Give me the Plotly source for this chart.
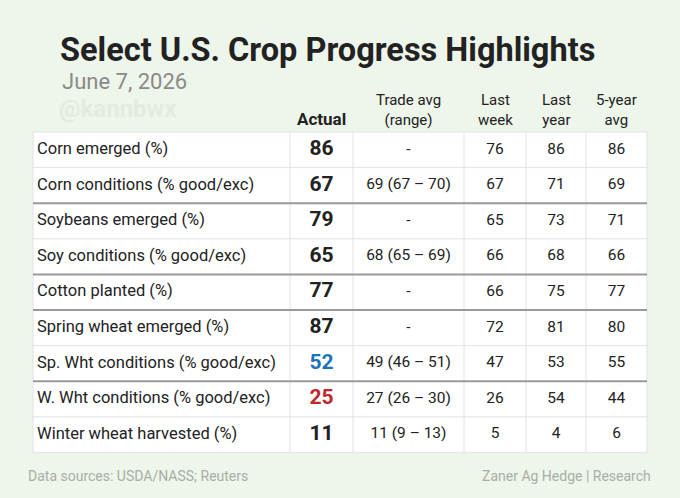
import plotly.graph_objects as go

labels = ["Corn emerged (%)", "Corn conditions (% good/exc)", "Soybeans emerged (%)",
          "Soy conditions (% good/exc)", "Cotton planted (%)", "Spring wheat emerged (%)",
          "Sp. Wht conditions (% good/exc)", "W. Wht conditions (% good/exc)",
          "Winter wheat harvested (%)"]
actual = [86, 67, 79, 65, 77, 87, 52, 25, 11]
actual_colors = ["#222", "#222", "#222", "#222", "#222", "#222", "#1a73b8", "#c0282d", "#222"]
trade = ["-", "69 (67 – 70)", "-", "68 (65 – 69)", "-", "-", "49 (46 – 51)", "27 (26 – 30)", "11 (9 – 13)"]
last_week = [76, 67, 65, 66, 66, 72, 47, 26, 5]
last_year = [86, 71, 73, 68, 75, 81, 53, 54, 4]
five_year = [86, 69, 71, 66, 77, 80, 55, 44, 6]
headers = ["<b>Actual</b>", "Trade avg<br>(range)", "Last<br>week", "Last<br>year", "5-year<br>avg"]
group_breaks = [2, 4, 5, 7]

edges = [33, 290, 353, 464, 526, 586, 647]
top, rh = 132, 35.6
n = len(labels)
font = "Roboto"

fig = go.Figure()
shapes = [dict(type="rect", x0=edges[0], x1=edges[-1], y0=top, y1=top + n * rh,
               fillcolor="white", line=dict(color="#e2e2e2", width=1), layer="below")]
for x in edges[1:-1]:
    shapes.append(dict(type="line", x0=x, x1=x, y0=top, y1=top + n * rh,
                       line=dict(color="#e2e2e2", width=1)))
for i in range(1, n):
    thick = i in group_breaks
    shapes.append(dict(type="line", x0=edges[0], x1=edges[-1], y0=top + i * rh, y1=top + i * rh,
                       line=dict(color="#9a9a9a" if thick else "#e2e2e2", width=2 if thick else 1)))

ys = [top + (i + 0.5) * rh for i in range(n)]
cx = [(edges[k] + edges[k + 1]) / 2 for k in range(len(edges) - 1)]

fig.add_trace(go.Scatter(x=[edges[0] + 4] * n, y=ys, mode="text", text=labels,
                         textposition="middle right", textfont=dict(family=font, size=16.5, color="#222")))
fig.add_trace(go.Scatter(x=[cx[1]] * n, y=ys, mode="text", text=[f"<b>{v}</b>" for v in actual],
                         textfont=dict(family=font, size=21, color=actual_colors)))
for k, col in enumerate([trade, last_week, last_year, five_year]):
    fig.add_trace(go.Scatter(x=[cx[k + 2]] * n, y=ys, mode="text", text=[str(v) for v in col],
                             textfont=dict(family=font, size=15.5, color="#222")))

ann = []
for k, h in enumerate(headers):
    ann.append(dict(x=cx[k + 1], y=top - 1, xref="x", yref="y", text=h, showarrow=False,
                    yanchor="bottom", font=dict(family=font, size=17 if k == 0 else 15, color="#222")))
ann += [
    dict(x=58, y=50, xref="x", yref="y", text="<b>Select U.S. Crop Progress Highlights</b>",
         showarrow=False, xanchor="left", font=dict(family=font, size=32.5, color="#222")),
    dict(x=60, y=81, xref="x", yref="y", text="June 7, 2026", showarrow=False, xanchor="left",
         font=dict(family=font, size=22, color="#8a8a8a")),
    dict(x=57, y=109, xref="x", yref="y", text="<b>@kannbwx</b>", showarrow=False, xanchor="left",
         font=dict(family=font, size=24, color="#e3ebe0")),
    dict(x=26, y=476, xref="x", yref="y", text="Data sources: USDA/NASS; Reuters", showarrow=False,
         xanchor="left", font=dict(family=font, size=14, color="#a8aea6")),
    dict(x=653, y=476, xref="x", yref="y", text="Zaner Ag Hedge | Research", showarrow=False,
         xanchor="right", font=dict(family=font, size=14, color="#a8aea6")),
]

fig.update_layout(width=680, height=498, margin=dict(l=0, r=0, t=0, b=0),
                  paper_bgcolor="#eef5ea", plot_bgcolor="#eef5ea", showlegend=False,
                  shapes=shapes, annotations=ann,
                  xaxis=dict(range=[0, 680], visible=False, fixedrange=True),
                  yaxis=dict(range=[498, 0], visible=False, fixedrange=True))
fig.write_html("out.html", config={"displayModeBar": False},
               post_script="document.body.style.margin='0';")
